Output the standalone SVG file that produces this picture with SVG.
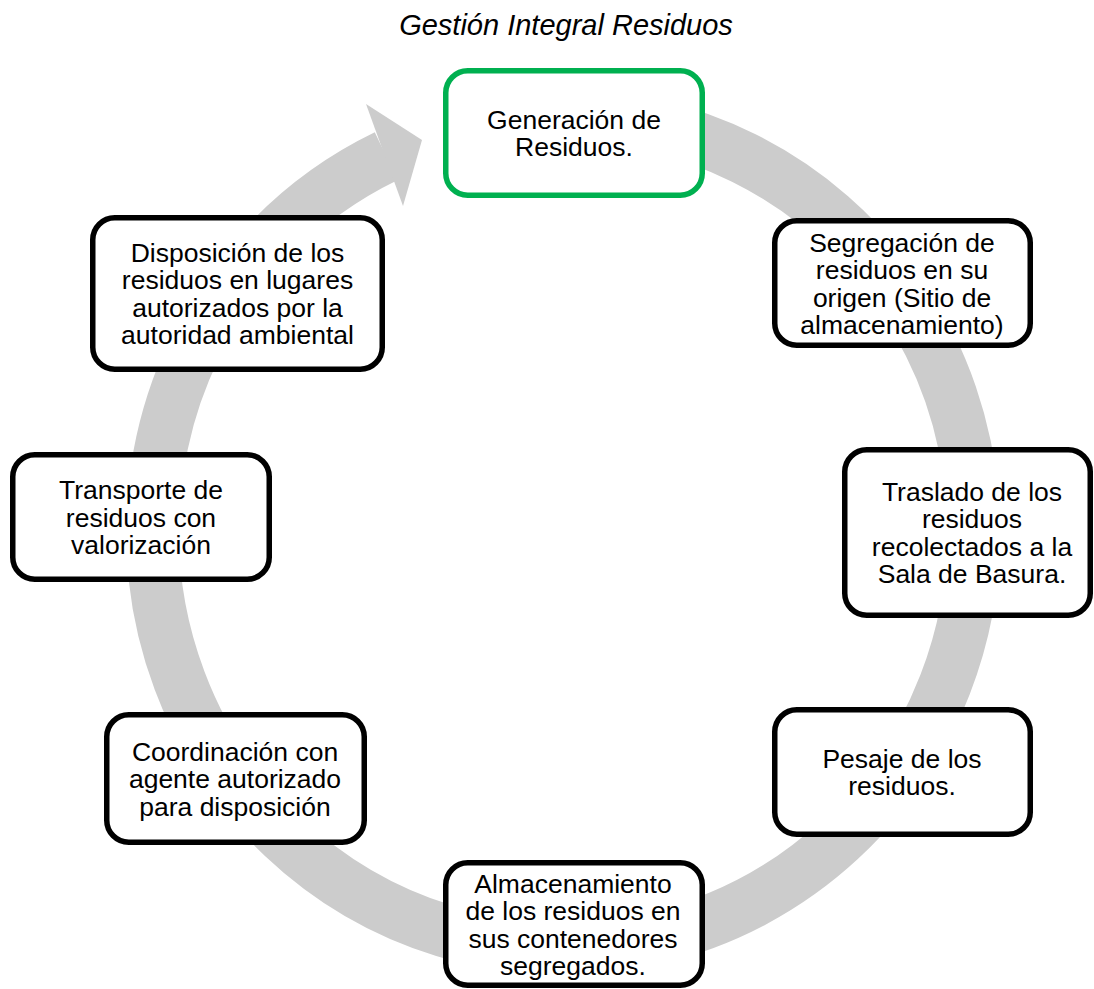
<svg xmlns="http://www.w3.org/2000/svg" width="1094" height="989" viewBox="0 0 1094 989">
<style>
.box{fill:#ffffff;stroke:#000000;stroke-width:5.5}
.green{stroke:#00b050}
.t{font-family:"Liberation Sans",Arial,sans-serif;font-size:26.5px;fill:#000000;text-anchor:middle}
.title{font-family:"Liberation Sans",Arial,sans-serif;font-size:29px;font-style:italic;fill:#000000;text-anchor:middle}
.ring{fill:none;stroke:#cccccc;stroke-width:53}
</style>
<rect width="1094" height="989" fill="#ffffff"/>
<text class="title" x="566" y="35">Gestión Integral Residuos</text>
<g id="connectors">
<path class="ring" d="M 563 115.5 A 410.5 416.5 0 1 1 386.3 156.1"/>
<polygon points="366,104 422,140 403,206" fill="#cccccc"/>
</g>
<g id="n1">
<rect class="box green" x="445.75" y="70.75" width="256.5" height="124.5" rx="22"/>
<text class="t" x="574" y="128.75">Generación de</text>
<text class="t" x="574" y="156.25">Residuos.</text>
</g>
<g id="n2">
<rect class="box" x="774.75" y="220.75" width="255.5" height="124.5" rx="22"/>
<text class="t" x="902" y="251.5">Segregación de</text>
<text class="t" x="902" y="279">residuos en su</text>
<text class="t" x="902" y="306.5">origen (Sitio de</text>
<text class="t" x="902" y="334">almacenamiento)</text>
</g>
<g id="n3">
<rect class="box" x="844.75" y="449.75" width="245.5" height="165.5" rx="22"/>
<text class="t" x="972" y="500.5">Traslado de los</text>
<text class="t" x="972" y="528">residuos</text>
<text class="t" x="972" y="555.5">recolectados a la</text>
<text class="t" x="972" y="583">Sala de Basura.</text>
</g>
<g id="n4">
<rect class="box" x="774.75" y="709.75" width="255.5" height="124.5" rx="22"/>
<text class="t" x="902" y="767.75">Pesaje de los</text>
<text class="t" x="902" y="795.25">residuos.</text>
</g>
<g id="n5">
<rect class="box" x="445.75" y="862.75" width="256.5" height="122.5" rx="22"/>
<text class="t" x="573" y="892.5">Almacenamiento</text>
<text class="t" x="573" y="920">de los residuos en</text>
<text class="t" x="573" y="947.5">sus contenedores</text>
<text class="t" x="573" y="975">segregados.</text>
</g>
<g id="n6">
<rect class="box" x="106.75" y="714.75" width="257.5" height="127.5" rx="22"/>
<text class="t" x="235" y="760.5">Coordinación con</text>
<text class="t" x="235" y="788">agente autorizado</text>
<text class="t" x="235" y="815.5">para disposición</text>
</g>
<g id="n7">
<rect class="box" x="12.75" y="454.75" width="256.5" height="124.5" rx="22"/>
<text class="t" x="141" y="499">Transporte de</text>
<text class="t" x="141" y="526.5">residuos con</text>
<text class="t" x="141" y="554">valorización</text>
</g>
<g id="n8">
<rect class="box" x="92.75" y="217.75" width="289.5" height="151.5" rx="22"/>
<text class="t" x="237.5" y="261.75">Disposición de los</text>
<text class="t" x="237.5" y="289.25">residuos en lugares</text>
<text class="t" x="237.5" y="316.75">autorizados por la</text>
<text class="t" x="237.5" y="344.25">autoridad ambiental</text>
</g>
</svg>
